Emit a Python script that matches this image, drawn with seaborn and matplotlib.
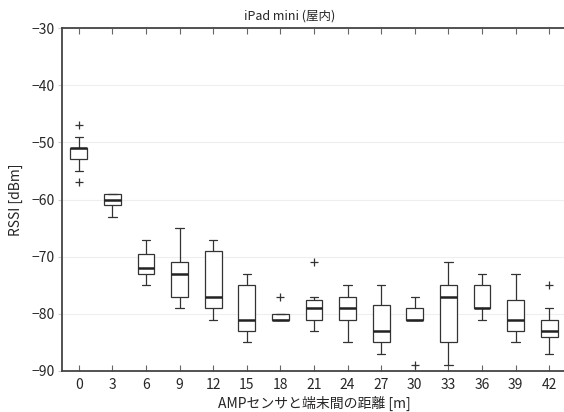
import matplotlib
matplotlib.use("Agg")
import matplotlib.pyplot as plt
import pandas as pd
import seaborn as sns

# RSSI samples [dBm] per distance [m]
distances = [0, 3, 6, 9, 12, 15, 18, 21, 24, 27, 30, 33, 36, 39, 42]
rssi_0 = [-57, -55, -53, -52, -51, -51, -51, -49, -47]
rssi_3 = [-63, -62, -61, -61, -60, -60, -59, -59, -59]
rssi_6 = [-75, -74, -73, -73, -72, -72, -71, -70, -69, -68, -67]
rssi_9 = [-79, -78, -77, -75, -73, -72, -71, -68, -65]
rssi_12 = [-81, -80, -79, -78, -77, -73, -69, -68, -67]
rssi_15 = [-85, -84, -83, -82, -81, -79, -75, -74, -73]
rssi_18 = [-81, -81, -81, -81, -81, -80, -80, -80, -77]
rssi_21 = [-83, -82, -81, -81, -80, -79, -79, -78, -77, -77, -71]
rssi_24 = [-85, -83, -81, -80, -79, -78, -77, -76, -75]
rssi_27 = [-87, -86, -85, -85, -84, -83, -81, -79, -78, -77, -75]
rssi_30 = [-89, -81, -81, -81, -81, -80, -79, -78, -77]
rssi_33 = [-89, -87, -85, -80, -77, -76, -75, -73, -71]
rssi_36 = [-81, -80, -79, -79, -79, -77, -75, -74, -73]
rssi_39 = [-85, -84, -83, -83, -82, -81, -80, -78, -77, -75, -73]
rssi_42 = [-87, -85, -84, -83, -83, -82, -81, -79, -75]

samples = [rssi_0, rssi_3, rssi_6, rssi_9, rssi_12, rssi_15, rssi_18, rssi_21,
           rssi_24, rssi_27, rssi_30, rssi_33, rssi_36, rssi_39, rssi_42]

rows = []
for d, vals in zip(distances, samples):
    for v in vals:
        rows.append({"distance": str(d), "rssi": v})
df = pd.DataFrame(rows)
order = [str(d) for d in distances]

sns.set_style("white")
plt.rcParams["font.family"] = ["Noto Sans CJK JP", "DejaVu Sans"]
plt.rcParams["axes.unicode_minus"] = True

fig = plt.figure(figsize=(5.64, 4.12), dpi=100)
ax = fig.add_axes([62 / 564, 1 - 371 / 412, 504 / 564, 343 / 412])

sns.boxplot(
    data=df,
    x="distance",
    y="rssi",
    order=order,
    width=0.5,
    color="white",
    linecolor="#333333",
    linewidth=0.9,
    whis=1.5,
    ax=ax,
    medianprops=dict(color="#222222", linewidth=1.8),
    flierprops=dict(marker="+", markersize=6, markeredgecolor="#333333",
                    markeredgewidth=0.9),
)

ax.set_ylim(-90, -30)
ax.set_xlim(-0.5, 14.5)
ax.set_yticks(range(-90, -29, 10))
ax.yaxis.grid(True, color="#eeeeee", linewidth=0.8)
ax.set_axisbelow(True)

for side in ["left", "bottom", "top", "right"]:
    ax.spines[side].set_color("#444444")
    ax.spines[side].set_linewidth(1.3)

ax.tick_params(axis="x", direction="in", top=True, bottom=True, length=4,
               width=0.8, color="#666666", labelsize=10, pad=5)
ax.tick_params(axis="y", direction="out", left=True, right=False, length=3,
               width=0.8, color="#cccccc", labelsize=10, pad=2)

ax.set_xlabel("AMPセンサと端末間の距離 [m]", fontsize=10, labelpad=3)
ax.set_ylabel("RSSI [dBm]", fontsize=10, labelpad=6)
fig.text(290 / 564, 1 - 16 / 412, "iPad mini (屋内)", ha="center", va="center",
         fontsize=9)

fig.savefig("out.png", dpi=100)
plt.close(fig)
